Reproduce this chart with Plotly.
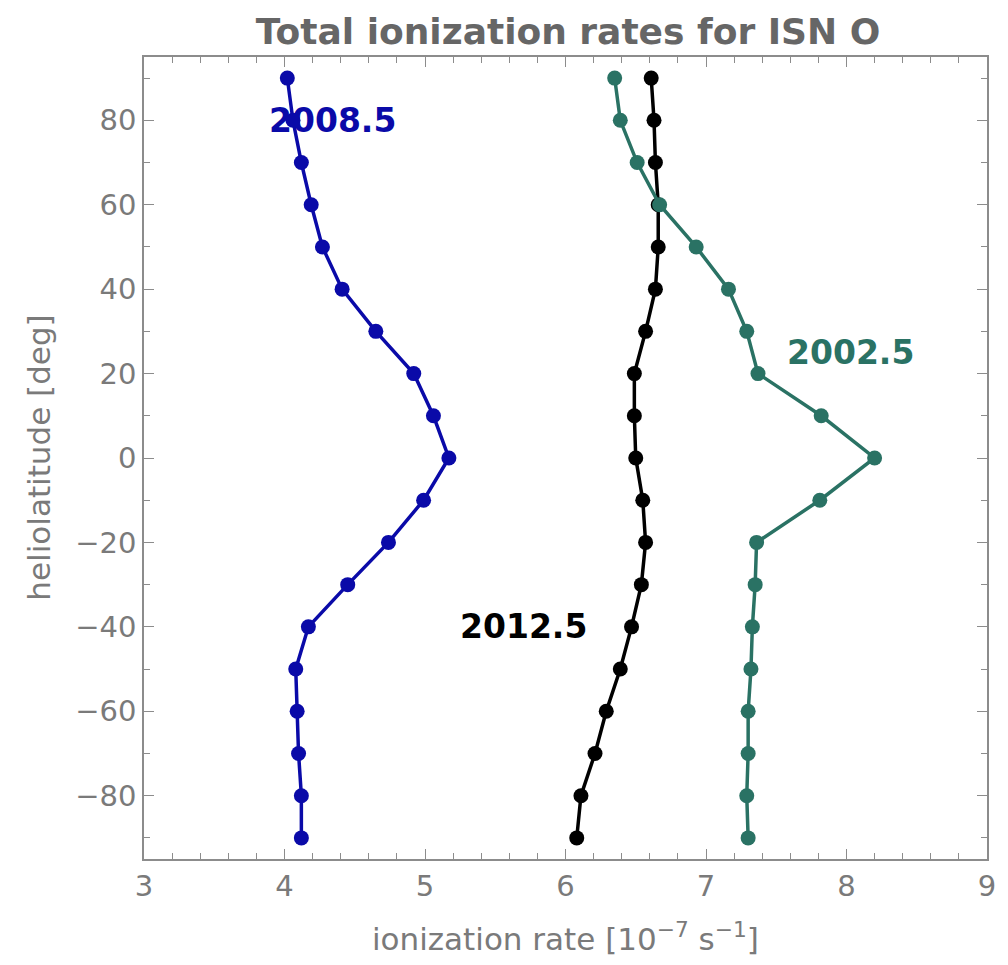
import plotly.graph_objects as go

latitude = [90, 80, 70, 60, 50, 40, 30, 20, 10, 0, -10, -20, -30, -40, -50, -60, -70, -80, -90]

rate_2008 = [4.02, 4.06, 4.12, 4.19, 4.27, 4.41, 4.65, 4.92, 5.06, 5.17,
             4.99, 4.74, 4.45, 4.17, 4.08, 4.09, 4.10, 4.12, 4.12]
rate_2012 = [6.61, 6.63, 6.64, 6.66, 6.66, 6.64, 6.57, 6.49, 6.49, 6.50,
             6.55, 6.57, 6.54, 6.47, 6.39, 6.29, 6.21, 6.11, 6.08]
rate_2002 = [6.35, 6.39, 6.51, 6.67, 6.93, 7.16, 7.29, 7.37, 7.82, 8.20,
             7.81, 7.36, 7.35, 7.33, 7.32, 7.30, 7.30, 7.29, 7.30]

series = [
    ("2008.5", rate_2008, "#0a0aa8", 4.34, 80),
    ("2012.5", rate_2012, "#000000", 5.70, -40),
    ("2002.5", rate_2002, "#2a7264", 8.03, 25),
]

FONT = "DejaVu Sans, Verdana, sans-serif"
GRAY = "#7a7a7a"

fig = go.Figure()
for name, vals, color, lx, ly in series:
    fig.add_trace(go.Scatter(
        x=vals, y=latitude, mode="lines+markers", name=name,
        line=dict(color=color, width=3.5),
        marker=dict(color=color, size=15),
        showlegend=False,
    ))
    fig.add_annotation(x=lx, y=ly, xref="x", yref="y", text="<b>" + name + "</b>",
                       showarrow=False, font=dict(family=FONT, size=33, color=color))

axis_common = dict(
    showgrid=False, zeroline=False, showline=True, linecolor="#8c8c8c", linewidth=1.5,
    mirror="ticks", ticks="inside", tickcolor="#8c8c8c", tickwidth=1.2,
    tickfont=dict(family=FONT, size=29, color=GRAY),
)

fig.update_xaxes(range=[3, 9], dtick=1, tick0=3, ticklen=10,
                 minor=dict(dtick=0.2, ticks="inside", ticklen=6, tickcolor="#8c8c8c", tickwidth=1.2),
                 **axis_common)
fig.update_yaxes(range=[-95, 95], dtick=20, tick0=0, ticklen=10,
                 minor=dict(dtick=10, ticks="inside", ticklen=6, tickcolor="#8c8c8c", tickwidth=1.2),
                 **axis_common)

fig.add_annotation(x=0.5, y=-0.097, xref="paper", yref="paper", yanchor="middle",
                   text="ionization rate [10<sup>−7</sup> s<sup>−1</sup>]", showarrow=False,
                   font=dict(family=FONT, size=31, color=GRAY))
fig.add_annotation(x=-0.125, y=0.5, xref="paper", yref="paper", xanchor="center",
                   text="heliolatitude [deg]", textangle=-90, showarrow=False,
                   font=dict(family=FONT, size=31, color=GRAY))

fig.update_layout(
    width=1008, height=965,
    margin=dict(l=144, r=15, t=57, b=106),
    paper_bgcolor="white", plot_bgcolor="white",
    title=dict(text="<b>Total ionization rates for ISN O</b>", x=0.5635, xanchor="center",
               y=1 - 31 / 965, yanchor="middle",
               font=dict(family=FONT, size=36, color="#666666")),
)

fig.write_html("out.html")
